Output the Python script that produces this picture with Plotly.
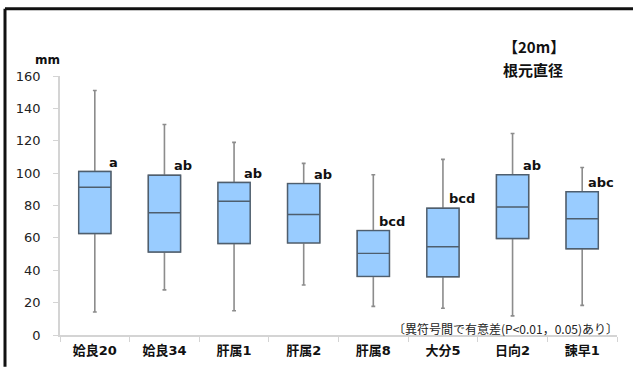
import plotly.graph_objects as go

# Root-collar diameter (mm) by clone, 20 m plot
categories = ["姶良20", "姶良34", "肝属1", "肝属2", "肝属8", "大分5", "日向2", "諫早1"]
upper_whisker = [151, 130, 119, 106, 99, 108.5, 124.5, 103.5]
q3 = [101, 98.7, 94.2, 93.5, 64.5, 78.3, 99, 88.5]
median = [91.3, 75.5, 82.6, 74.4, 50.4, 54.5, 79.1, 71.8]
q1 = [62.7, 51.3, 56.5, 56.9, 36.2, 36, 59.6, 53.3]
lower_whisker = [14.2, 27.9, 15, 30.9, 17.7, 16.5, 11.8, 18.3]
letters = ["a", "ab", "ab", "ab", "bcd", "bcd", "ab", "abc"]
y_ticks = [0, 20, 40, 60, 80, 100, 120, 140, 160]

W, H = 633, 370
ML, MR, MT, MB = 60, 16, 76, 32
PW, PH = W - ML - MR, H - MT - MB


def px_x(p):
    return (p - ML) / PW


def px_y(p):
    return (H - MB - p) / PH


fig = go.Figure()

# whiskers (gray)
fig.add_trace(go.Box(
    x=categories, q1=q1, median=median, q3=q3,
    lowerfence=lower_whisker, upperfence=upper_whisker,
    fillcolor="#99CCFF", line=dict(color="#8C8C8C", width=1.6),
    whiskerwidth=0.12, boxpoints=False, hoverinfo="skip", showlegend=False,
))
# box body with darker outline drawn on top
fig.add_trace(go.Box(
    x=categories, q1=q1, median=median, q3=q3,
    lowerfence=q1, upperfence=q3,
    fillcolor="#99CCFF", line=dict(color="#4E5E6E", width=1.4),
    whiskerwidth=0, boxpoints=False, hoverinfo="skip", showlegend=False,
))

annotations = []
for cat, top, lab in zip(categories, q3, letters):
    annotations.append(dict(
        x=cat, y=top, xref="x", yref="y", text=lab, showarrow=False,
        xanchor="center", yanchor="bottom", xshift=19, yshift=0,
        font=dict(family="DejaVu Sans", size=13, color="#111111", weight="bold"),
    ))

title_font = dict(family="Noto Sans CJK JP", size=15, color="#111111", weight="bold")
annotations += [
    dict(x=px_x(47), y=px_y(60), xref="paper", yref="paper", text="mm",
         showarrow=False, xanchor="center", yanchor="middle",
         font=dict(family="DejaVu Sans", size=12, color="#111111", weight="bold")),
    dict(x=px_x(502), y=px_y(58), xref="paper", yref="paper", text="【20m】",
         showarrow=False, xanchor="left", yanchor="bottom", borderpad=0,
         font=title_font),
    dict(x=px_x(502), y=px_y(58), xref="paper", yref="paper", text="根元直径",
         showarrow=False, xanchor="left", yanchor="top", borderpad=0,
         font=title_font),
    dict(x=px_x(620), y=px_y(331), xref="paper", yref="paper",
         text="〔異符号間で有意差(P<0.01，0.05)あり〕",
         showarrow=False, xanchor="right", yanchor="middle",
         font=dict(family="Noto Sans CJK JP", size=12, color="#222222")),
]

# frame: only the top and left edges fall inside the page
frame = dict(color="#111111", width=3)
fig.update_layout(
    width=W, height=H,
    margin=dict(l=ML, r=MR, t=MT, b=MB),
    paper_bgcolor="white", plot_bgcolor="white",
    boxmode="overlay", boxgap=0.34,
    showlegend=False,
    annotations=annotations,
    shapes=[
        dict(type="line", xref="paper", yref="paper",
             x0=px_x(5), x1=px_x(W), y0=px_y(8), y1=px_y(8), line=frame),
        dict(type="line", xref="paper", yref="paper",
             x0=px_x(5), x1=px_x(5), y0=px_y(8), y1=px_y(H), line=frame),
    ],
)

fig.update_xaxes(
    categoryorder="array", categoryarray=categories,
    showline=True, linecolor="#D4D4D4", linewidth=1.5,
    ticks="outside", tickson="boundaries", ticklen=5, tickcolor="#D4D4D4",
    showgrid=False, zeroline=False, ticklabelstandoff=3,
    tickfont=dict(family="DejaVu Sans, Noto Sans CJK JP", size=13, color="#111111", weight="bold"),
)
fig.update_yaxes(
    range=[0, 160], tickvals=y_ticks,
    showline=True, linecolor="#D4D4D4", linewidth=1.5,
    ticks="outside", ticklen=5, tickcolor="#D4D4D4",
    showgrid=False, zeroline=False, ticklabelstandoff=10,
    tickfont=dict(family="DejaVu Sans", size=13, color="#222222"),
)

fig.write_html("out.html")
